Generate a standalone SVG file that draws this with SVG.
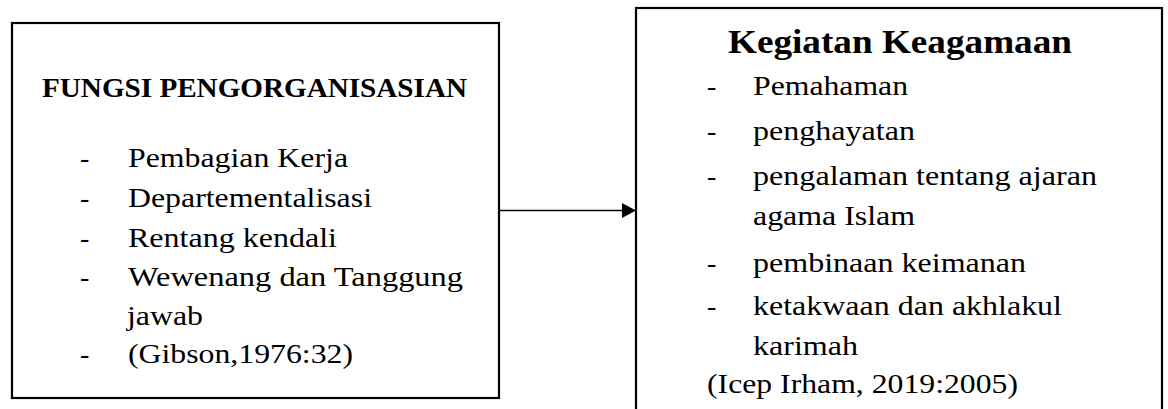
<svg xmlns="http://www.w3.org/2000/svg" width="1168" height="409" viewBox="0 0 1168 409">
<style>
.box{fill:#fff;stroke:#000;stroke-width:2.2}
text{font-family:"Liberation Serif","Times New Roman",serif;fill:#000}
.t{font-size:28px}
.h{font-weight:bold}
.conn{stroke:#000;stroke-width:1.6;fill:none}
</style>
<defs>
<marker id="ah" markerUnits="userSpaceOnUse" markerWidth="16" markerHeight="16" refX="14" refY="8" orient="auto">
<path d="M0,0.5 L14,8 L0,15.5 Z" fill="#000"/>
</marker>
</defs>
<rect width="1168" height="409" fill="#fff"/>
<g id="node-fungsi">
<rect class="box" x="12" y="23" width="487" height="375"/>
<text class="h" x="42" y="97" font-size="27" textLength="425" lengthAdjust="spacingAndGlyphs">FUNGSI PENGORGANISASIAN</text>
<text class="t" x="80" y="167">-</text>
<text class="t" x="128" y="167" textLength="220" lengthAdjust="spacingAndGlyphs">Pembagian Kerja</text>
<text class="t" x="80" y="207">-</text>
<text class="t" x="128" y="207" textLength="244" lengthAdjust="spacingAndGlyphs">Departementalisasi</text>
<text class="t" x="80" y="247">-</text>
<text class="t" x="128" y="247" textLength="209" lengthAdjust="spacingAndGlyphs">Rentang kendali</text>
<text class="t" x="80" y="286">-</text>
<text class="t" x="128" y="286" textLength="335" lengthAdjust="spacingAndGlyphs">Wewenang dan Tanggung</text>
<text class="t" x="127" y="325" textLength="76" lengthAdjust="spacingAndGlyphs">jawab</text>
<text class="t" x="80" y="363">-</text>
<text class="t" x="128" y="363" textLength="225" lengthAdjust="spacingAndGlyphs">(Gibson,1976:32)</text>
</g>
<g id="node-kegiatan">
<rect class="box" x="636" y="8" width="526" height="420"/>
<text class="h" x="728" y="53" font-size="33" textLength="344" lengthAdjust="spacingAndGlyphs">Kegiatan Keagamaan</text>
<text class="t" x="707" y="95">-</text>
<text class="t" x="753" y="95" textLength="155" lengthAdjust="spacingAndGlyphs">Pemahaman</text>
<text class="t" x="707" y="140">-</text>
<text class="t" x="753" y="140" textLength="162" lengthAdjust="spacingAndGlyphs">penghayatan</text>
<text class="t" x="707" y="185">-</text>
<text class="t" x="753" y="185" textLength="344" lengthAdjust="spacingAndGlyphs">pengalaman tentang ajaran</text>
<text class="t" x="753" y="225" textLength="162" lengthAdjust="spacingAndGlyphs">agama Islam</text>
<text class="t" x="707" y="272">-</text>
<text class="t" x="753" y="272" textLength="273" lengthAdjust="spacingAndGlyphs">pembinaan keimanan</text>
<text class="t" x="707" y="315">-</text>
<text class="t" x="753" y="315" textLength="309" lengthAdjust="spacingAndGlyphs">ketakwaan dan akhlakul</text>
<text class="t" x="753" y="355" textLength="105" lengthAdjust="spacingAndGlyphs">karimah</text>
<text class="t" x="707" y="393" textLength="311" lengthAdjust="spacingAndGlyphs">(Icep Irham, 2019:2005)</text>
</g>
<g id="connectors">
<line class="conn" x1="499" y1="210.5" x2="636" y2="210.5" marker-end="url(#ah)"/>
</g>
</svg>
